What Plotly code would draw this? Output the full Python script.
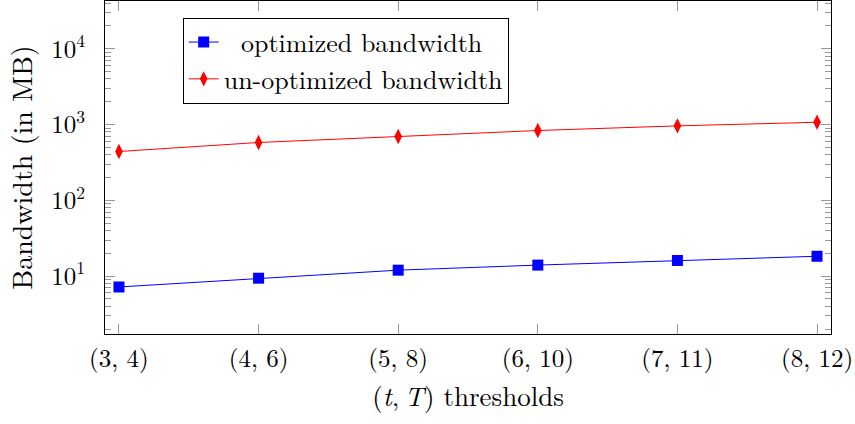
import plotly.graph_objects as go

categories = ["(3, 4)", "(4, 6)", "(5, 8)", "(6, 10)", "(7, 11)", "(8, 12)"]
optimized = [7.2, 9.4, 12.0, 14.0, 16.1, 18.3]
unoptimized = [441, 580, 695, 834, 961, 1072]
ytick_vals = [10, 100, 1000, 10000]
ytick_text = ["10<sup>1</sup>", "10<sup>2</sup>", "10<sup>3</sup>", "10<sup>4</sup>"]
minor_mantissas = [2, 3, 4, 5, 6, 7, 8, 9]
minor_decades = [1, 10, 100, 1000, 10000]
minor_vals = [m * d for d in minor_decades for m in minor_mantissas]

xs = list(range(len(categories)))
FONT = "Latin Modern Roman"
YRANGE = [0.237, 4.63]
TICKCOL = "#999"

fig = go.Figure()
fig.add_trace(go.Scatter(
    x=xs, y=optimized, mode="lines+markers", name="  optimized bandwidth",
    line=dict(color="blue", width=1),
    marker=dict(symbol="square", size=11, color="blue"),
))
fig.add_trace(go.Scatter(
    x=xs, y=unoptimized, mode="lines+markers", name="un-optimized bandwidth",
    line=dict(color="red", width=1),
    marker=dict(symbol="diamond-tall", size=11, color="red"),
))
# empty helper trace so the minor-tick overlay axis is drawn
fig.add_trace(go.Scatter(x=[], y=[], yaxis="y2", showlegend=False, hoverinfo="skip"))

fig.update_layout(
    width=855, height=424,
    margin=dict(l=105, r=24, t=1, b=90),
    paper_bgcolor="white", plot_bgcolor="white",
    font=dict(family=FONT, size=25, color="black"),
    showlegend=True,
    legend=dict(
        x=0.107, y=0.95, xanchor="left", yanchor="top",
        bordercolor="black", borderwidth=1, bgcolor="white",
        font=dict(family=FONT, size=26, color="black"),
        tracegroupgap=0, itemwidth=30,
    ),
    xaxis=dict(
        range=[-0.1, 5.1], tickvals=xs, ticktext=categories,
        showgrid=False, zeroline=False,
        ticks="inside", ticklen=10, tickcolor=TICKCOL, tickwidth=1,
        showline=True, linecolor="black", linewidth=1.2, mirror="ticks",
        ticklabelstandoff=2,
        title=dict(text="(<i>t</i>,\u2009<i>T</i>) thresholds", standoff=14,
                   font=dict(family=FONT, size=27)),
        tickfont=dict(family=FONT, size=25),
    ),
    yaxis=dict(
        type="log", range=YRANGE,
        tickvals=ytick_vals, ticktext=ytick_text,
        showgrid=False, zeroline=False,
        ticks="inside", ticklen=10, tickcolor=TICKCOL, tickwidth=1,
        minor=dict(tickmode="array", tickvals=minor_vals, ticks="inside",
                   ticklen=6, tickcolor=TICKCOL, showgrid=False),
        showline=True, linecolor="black", linewidth=1.2, mirror="ticks",
        ticklabelstandoff=14,
        title=dict(text="Bandwidth (in MB)", standoff=10,
                   font=dict(family=FONT, size=28)),
        tickfont=dict(family=FONT, size=25),
    ),
    yaxis2=dict(
        type="log", range=YRANGE, overlaying="y", side="left",
        tickmode="array", tickvals=minor_vals, showticklabels=False,
        ticks="inside", ticklen=6, tickcolor=TICKCOL, tickwidth=1,
        showgrid=False, zeroline=False, showline=False, mirror="ticks",
    ),
)

fig.write_html("out.html", config={"displayModeBar": False},
               post_script="document.body.style.margin='0';")
